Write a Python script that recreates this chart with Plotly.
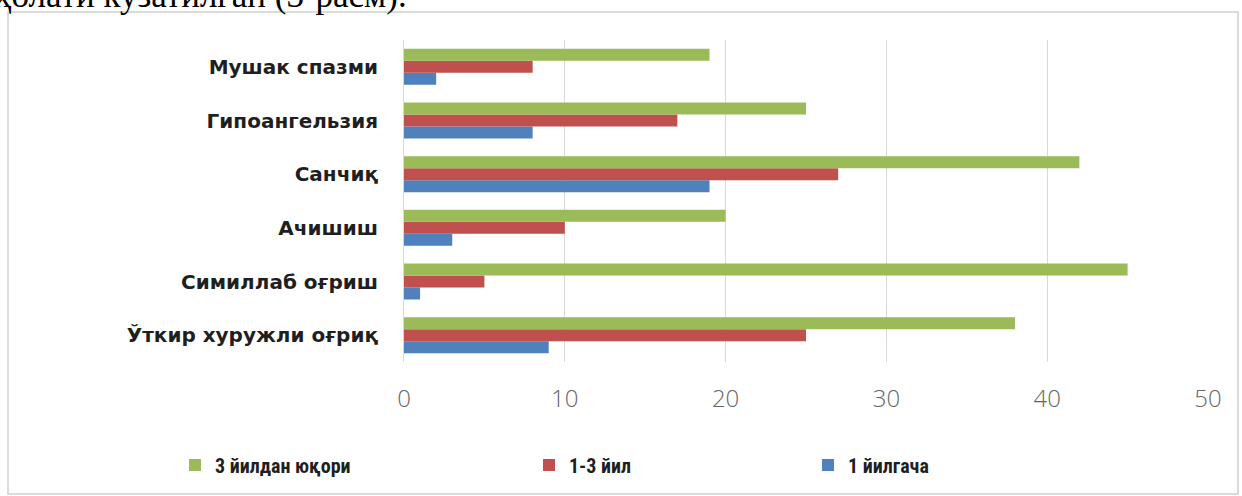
import plotly.graph_objects as go

# Categories listed bottom-to-top (Plotly puts the first category at the bottom)
categories = [
    "Ўткир хуружли оғриқ",
    "Симиллаб оғриш",
    "Ачишиш",
    "Санчиқ",
    "Гипоангельзия",
    "Мушак спазми",
]

# Values per duration group
up_to_1_year = [9, 1, 3, 19, 8, 2]
one_to_3_years = [25, 5, 10, 27, 17, 8]
over_3_years = [38, 45, 20, 42, 25, 19]

series_names = ["1 йилгача", "1-3 йил", "3 йилдан юқори"]
series_values = [up_to_1_year, one_to_3_years, over_3_years]
series_colors = ["#4F81BD", "#C0504D", "#9BBB59"]
legend_ids = ["legend3", "legend2", "legend"]

x_ticks = [0, 10, 20, 30, 40, 50]

W, H = 1242, 496
M_L, M_R, M_T, M_B = 404, 34, 40, 134
PW, PH = W - M_L - M_R, H - M_T - M_B


def px_x(p):
    return (p - M_L) / PW


def px_y(p):
    return 1 - (p - M_T) / PH


fig = go.Figure()
for name, vals, color, lg in zip(series_names, series_values, series_colors, legend_ids):
    fig.add_trace(go.Bar(
        y=categories,
        x=vals,
        name=name,
        orientation="h",
        marker=dict(color=color, line=dict(width=0)),
        legend=lg,
    ))

legend_font = dict(family="Liberation Sans Narrow, Roboto Condensed, Roboto",
                   size=20, color="#1f1f1f", weight="bold")
common_legend = dict(orientation="h", yanchor="middle", xanchor="left",
                     bgcolor="rgba(0,0,0,0)", font=legend_font, itemwidth=30)

fig.update_layout(
    width=W,
    height=H,
    margin=dict(l=M_L, r=M_R, t=M_T, b=M_B, autoexpand=False),
    paper_bgcolor="white",
    plot_bgcolor="white",
    barmode="group",
    bargap=0.33,
    bargroupgap=0,
    showlegend=True,
    legend=dict(x=px_x(175), y=px_y(465), **common_legend),
    legend2=dict(x=px_x(529), y=px_y(465), **common_legend),
    legend3=dict(x=px_x(808), y=px_y(465), **common_legend),
    xaxis=dict(
        range=[0, 50],
        tickvals=x_ticks,
        showgrid=True,
        gridcolor="#d9d9d9",
        gridwidth=1,
        zeroline=False,
        showline=False,
        ticks="",
        ticklabelstandoff=20,
        tickfont=dict(family="Open Sans", size=24, color="#666666", weight=300),
        fixedrange=True,
    ),
    yaxis=dict(
        type="category",
        categoryorder="array",
        categoryarray=categories,
        showgrid=False,
        zeroline=False,
        showline=True,
        linecolor="#d9d9d9",
        linewidth=1,
        ticks="",
        ticklabelstandoff=21,
        tickfont=dict(family="DejaVu Sans", size=20, color="#1f1f1f", weight="bold"),
    ),
    shapes=[
        dict(type="rect", xref="paper", yref="paper",
             x0=px_x(8), x1=px_x(1238), y0=px_y(494), y1=px_y(12),
             line=dict(color="#cfcfcf", width=1.5), fillcolor="rgba(0,0,0,0)",
             layer="below"),
    ],
    annotations=[
        dict(text="ҳолати кузатилган (3-расм).", xref="paper", yref="paper",
             x=px_x(-8), y=px_y(17), xanchor="left", yanchor="bottom",
             showarrow=False,
             font=dict(family="Liberation Serif", size=35, color="#000000")),
    ],
)

fig.write_html("out.html")
